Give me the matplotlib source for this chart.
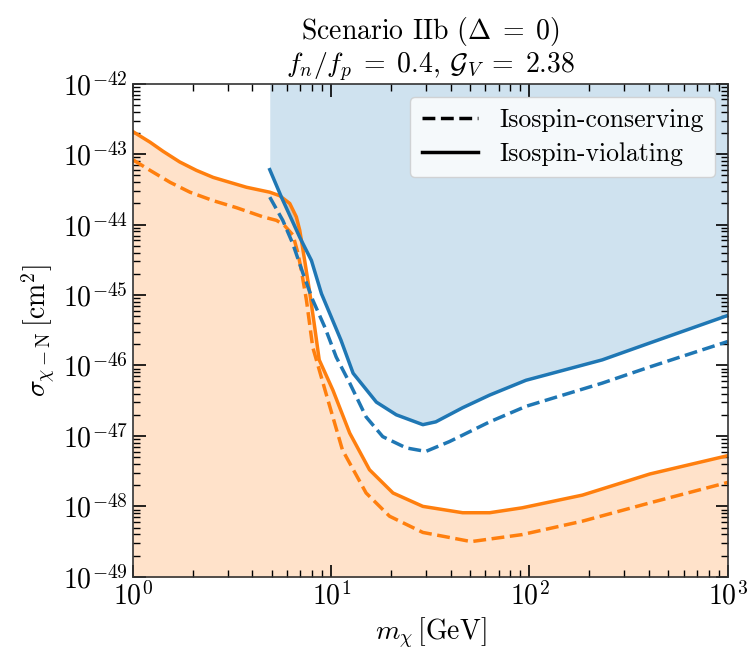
import numpy as np
import matplotlib
matplotlib.use("Agg")
import matplotlib.pyplot as plt

plt.rcParams['font.family'] = 'serif'
plt.rcParams['font.serif'] = ['cmr10']
plt.rcParams['mathtext.fontset'] = 'cm'
plt.rcParams['axes.formatter.use_mathtext'] = True

# masses (GeV) and log10 cross sections
m_orange = [1.0, 1.22, 1.42, 1.72, 2.09, 2.54, 3.08, 3.74, 4.9, 5.5, 6.18, 6.67, 6.94,
            7.35, 7.8, 8.26, 8.7, 10.2, 12.4, 15.6, 20.5, 29, 46, 63, 92, 185, 405, 1000]
viol_orange = [-42.68, -42.83, -42.96, -43.11, -43.23, -43.33, -43.40, -43.47, -43.54,
               -43.59, -43.70, -43.89, -44.08, -44.51, -44.97, -45.46, -45.92, -46.35,
               -46.96, -47.48, -47.81, -48.00, -48.09, -48.09, -48.02, -47.84, -47.54,
               -47.28]

m_orange_c = [1.0, 1.22, 1.54, 1.94, 2.54, 3.33, 4.53, 5.3, 5.8, 6.42, 6.8, 7.07, 7.5,
              8.07, 9.4, 11.4, 15, 19.7, 29, 41, 50.8, 92, 185, 405, 1000]
cons_orange = [-43.08, -43.23, -43.40, -43.54, -43.66, -43.76, -43.89, -43.94, -44.01,
               -44.15, -44.41, -44.65, -45.07, -45.74, -46.39, -47.20, -47.81, -48.14,
               -48.37, -48.45, -48.50, -48.40, -48.21, -47.95, -47.66]

m_blue = [4.9, 5.61, 6.94, 7.95, 8.93, 11.2, 12.9, 16.9, 21.3, 29, 33.7, 46, 63,
          96, 233, 405, 1000]
viol_blue = [-43.22, -43.61, -44.18, -44.51, -44.98, -45.64, -46.11, -46.52, -46.70,
             -46.84, -46.80, -46.60, -46.42, -46.21, -45.92, -45.68, -45.29]

m_blue_c = [4.9, 5.7, 6.4, 7.2, 8.07, 9.3, 10.6, 12.4, 15, 18.2, 23.9, 30, 39.5,
            63, 96, 233, 405, 1000]
cons_blue = [-43.61, -43.94, -44.27, -44.69, -45.07, -45.46, -45.88, -46.25, -46.73,
             -47.01, -47.17, -47.22, -47.08, -46.80, -46.58, -46.25, -46.02, -45.66]

c_blue = '#1f77b4'
c_orange = '#ff7f0e'

fig = plt.figure(figsize=(7.51, 6.54), dpi=100)
ax = fig.add_axes([0.177, 0.118, 0.792, 0.754])

yv_o = 10.0 ** np.array(viol_orange)
yv_b = 10.0 ** np.array(viol_blue)

ax.fill_between(m_orange, 1e-50, yv_o, color=c_orange, alpha=0.22, lw=0)
ax.fill_between(m_blue, yv_b, 1e-41, color=c_blue, alpha=0.21, lw=0)

ax.plot(m_orange, yv_o, color=c_orange, lw=2.5)
ax.plot(m_orange_c, 10.0 ** np.array(cons_orange), color=c_orange, lw=2.5, ls='--')
ax.plot(m_blue, yv_b, color=c_blue, lw=2.5)
ax.plot(m_blue_c, 10.0 ** np.array(cons_blue), color=c_blue, lw=2.5, ls='--')

ax.plot([], [], color='k', ls='--', lw=2.5, label='Isospin-conserving')
ax.plot([], [], color='k', ls='-', lw=2.5, label='Isospin-violating')

ax.set_xscale('log')
ax.set_yscale('log')
ax.set_xlim(1, 1000)
ax.set_ylim(1e-49, 1e-42)
ax.set_yticks([10.0 ** k for k in range(-49, -41)])

ax.tick_params(which='both', direction='in', top=True, right=True, labelsize=20)
ax.tick_params(which='major', length=9, width=1.2)
ax.tick_params(which='minor', length=5, width=1)
for s in ax.spines.values():
    s.set_linewidth(1.2)
    s.set_color('#333333')

ax.set_xlabel(r'$m_\chi\,[\mathrm{GeV}]$', fontsize=20)
ax.set_ylabel(r'$\sigma_{\chi-\mathrm{N}}\,[\mathrm{cm}^2]$', fontsize=20)
ax.set_title('Scenario IIb ($\\Delta\\;=\\;0$)\n$f_n/f_p\\;=\\;0.4$, $\\mathcal{G}_V\\;=\\;2.38$',
             fontsize=20, linespacing=1.1)

ax.legend(loc='upper right', fontsize=18.5, handlelength=2.2, framealpha=0.8,
          borderpad=0.45, labelspacing=0.4)

fig.savefig('out.png', dpi=100)
